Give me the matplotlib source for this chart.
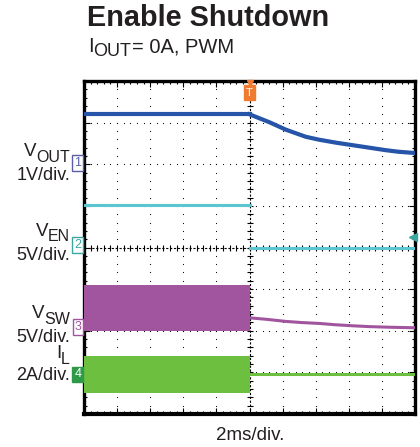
import numpy as np
import matplotlib.pyplot as plt

plt.rcParams['font.family'] = ['Liberation Sans', 'DejaVu Sans']

# time in ms, 2 ms/div, trigger at centre
t_pre = [-10, 0]
t_post = [0, 10]
t_vout = [0, 0.5, 1.2, 2.2, 3.4, 4.2, 5.2, 6.2, 7.2, 8.2, 9.0, 10.0]
vout_dec = [1.20, 1.12, 1.01, 0.83, 0.66, 0.59, 0.52, 0.46, 0.40, 0.34, 0.30, 0.27]
vout_pre = [1.20, 1.20]

ven_pre = [5.1, 5.1]
ven_post = [0.0, 0.0]

vsw_hi = [5.5, 5.5]
vsw_lo = [0.0, 0.0]
t_sw = [0, 1.0, 2.2, 3.2, 4.2, 5.2, 6.2, 7.2, 8.5, 10.0]
vsw_dec = [1.55, 1.38, 1.12, 0.98, 0.88, 0.72, 0.60, 0.50, 0.42, 0.36]

il_hi = [0.80, 0.80]
il_lo = [-0.98, -0.98]
il_post = [-0.06, -0.06]

# channel settings: (offset in div, scale per div, colour)
ch = {
    'vout': (6.0, 1.0, '#2554a8'),
    'ven': (4.0, 5.0, '#5cc6d0'),
    'vsw': (2.0, 5.0, '#a2559f'),
    'il': (1.0, 2.0, '#6cbf3f'),
}

def scr(name, vals):
    off, sc, _ = ch[name]
    return off + np.asarray(vals) / sc

def tx(t):
    return 5 + np.asarray(t) / 2.0

fig = plt.figure(figsize=(4.2, 4.47), dpi=100)
ax = fig.add_axes([84 / 420, 1 - 414 / 447, 331 / 420, 333 / 447])
ax.set_xlim(0, 10)
ax.set_ylim(0, 8)

# dotted graticule
for gx in range(1, 10):
    if gx == 5:
        continue
    ys = np.arange(0, 8.01, 0.2)
    ax.scatter(np.full_like(ys, gx), ys, s=0.7, c='k', lw=0, zorder=1)
for gy in range(1, 8):
    if gy == 4:
        continue
    xs = np.arange(0, 10.01, 0.2)
    ax.scatter(xs, np.full_like(xs, gy), s=0.7, c='k', lw=0, zorder=1)
# centre cross with ticks
ax.axvline(5, color='k', lw=0.8, ls=(0, (2, 1.5)), zorder=1)
ax.axhline(4, color='k', lw=0.8, ls=(0, (2, 1.5)), zorder=1)
ax.plot(np.full(41, 5.0), np.arange(0, 8.01, 0.2), ls='none', marker='_', ms=4, mew=0.8, color='k', zorder=1)
ax.plot(np.arange(0, 10.01, 0.2), np.full(51, 4.0), ls='none', marker='|', ms=4, mew=0.8, color='k', zorder=1)

# traces
c = ch['vout'][2]
ax.plot(tx(t_pre), scr('vout', vout_pre), color=c, lw=3, zorder=3)
ax.plot(tx(t_vout), scr('vout', vout_dec), color=c, lw=3, zorder=3)

c = ch['ven'][2]
ax.plot(tx(t_pre), scr('ven', ven_pre), color=c, lw=2.2, zorder=3)
ax.plot(tx(t_post), scr('ven', ven_post), color=c, lw=2.2, zorder=3)

c = ch['vsw'][2]
ax.fill_between(tx(t_pre), scr('vsw', vsw_lo), scr('vsw', vsw_hi), color=c, lw=0, zorder=3)
ax.plot(tx(t_sw), scr('vsw', vsw_dec), color=c, lw=2.2, zorder=3)

c = ch['il'][2]
ax.fill_between(tx(t_pre), scr('il', il_lo), scr('il', il_hi), color=c, lw=0, zorder=3)
ax.plot(tx(t_post), scr('il', il_post), color=c, lw=2.2, zorder=3)

# frame and ticks
for s in ax.spines.values():
    s.set_linewidth(2.4)
ax.spines['bottom'].set_linewidth(3)
ax.set_xticks(range(11))
ax.set_yticks(range(9))
ax.set_xticks(np.arange(0, 10.01, 0.2), minor=True)
ax.set_yticks(np.arange(0, 8.01, 0.2), minor=True)
ax.tick_params(which='both', direction='in', top=True, right=True,
               labelbottom=False, labelleft=False)
ax.tick_params(which='major', length=4, width=0.8)
ax.tick_params(which='minor', length=2.5, width=0.8)

# trigger marker
orange = '#f07a30'
ax.plot([5], [7.96], marker='v', ms=5, color=orange, clip_on=False, zorder=5)
ax.text(5, 7.72, 'T', ha='center', va='center', fontsize=8, color='white', zorder=5,
        bbox=dict(boxstyle='square,pad=0.2', fc=orange, ec=orange))
ax.plot([9.93], [4.25], marker='<', ms=6, color='#3aa6a0', clip_on=False, zorder=5)

# channel markers
marks = [('1', 6.03, '#5b5ea6', 'white'), ('2', 4.06, '#3aa6a0', 'white'),
         ('3', 2.09, '#a2559f', 'white'), ('4', 0.95, '#2e9a48', '#2e9a48')]
for lab, yv, ec, fc in marks:
    tc = 'white' if fc != 'white' else ec
    ax.text(-0.08, yv, lab, ha='right', va='center', fontsize=9, color=tc,
            clip_on=False, zorder=6,
            bbox=dict(boxstyle='square,pad=0.15', fc=fc, ec=ec, lw=1.0))

ink = '#231f20'
renderer = fig.canvas.get_renderer()

def sub_label(x, y, main, sub, size, subsize, align='right', tail=''):
    # x, y in pixels from top-left; text with a lowered subscript
    X = x / 420
    Y = 1 - y / 447
    if align == 'right':
        ts = fig.text(X, Y - 5 / 447, sub, ha='right', va='center', fontsize=subsize, color=ink)
        w = ts.get_window_extent(renderer).width
        fig.text(X - w / 420, Y, main, ha='right', va='center', fontsize=size, color=ink)
    else:
        tm = fig.text(X, Y, main, ha='left', va='center', fontsize=size, color=ink)
        w1 = tm.get_window_extent(renderer).width
        ts = fig.text(X + w1 / 420, Y - 5 / 447, sub, ha='left', va='center', fontsize=subsize, color=ink)
        w2 = ts.get_window_extent(renderer).width
        fig.text(X + (w1 + w2) / 420, Y, tail, ha='left', va='center', fontsize=size, color=ink)

# left labels
sub_label(70, 152, 'V', 'OUT', 13.5, 11.5)
fig.text(70 / 420, 1 - 176 / 447, '1V/div.', ha='right', va='center', fontsize=13, color=ink)
sub_label(70, 232, 'V', 'EN', 13.5, 11.5)
fig.text(70 / 420, 1 - 255 / 447, '5V/div.', ha='right', va='center', fontsize=13, color=ink)
sub_label(70, 314, 'V', 'SW', 13.5, 11.5)
fig.text(70 / 420, 1 - 337 / 447, '5V/div.', ha='right', va='center', fontsize=13, color=ink)
sub_label(70, 354, 'I', 'L', 13.5, 11.5)
fig.text(70 / 420, 1 - 376 / 447, '2A/div.', ha='right', va='center', fontsize=13, color=ink)

# titles
fig.text(87 / 420, 1 - 18 / 447, 'Enable Shutdown', ha='left', va='center',
         fontsize=20.8, fontweight='bold', color=ink)
sub_label(88, 47, 'I', 'OUT', 14.5, 13, align='left', tail='= 0A, PWM')
fig.text(250 / 420, 1 - 436 / 447, '2ms/div.', ha='center', va='center',
         fontsize=13.5, color=ink)

fig.savefig('out.png', dpi=100)
